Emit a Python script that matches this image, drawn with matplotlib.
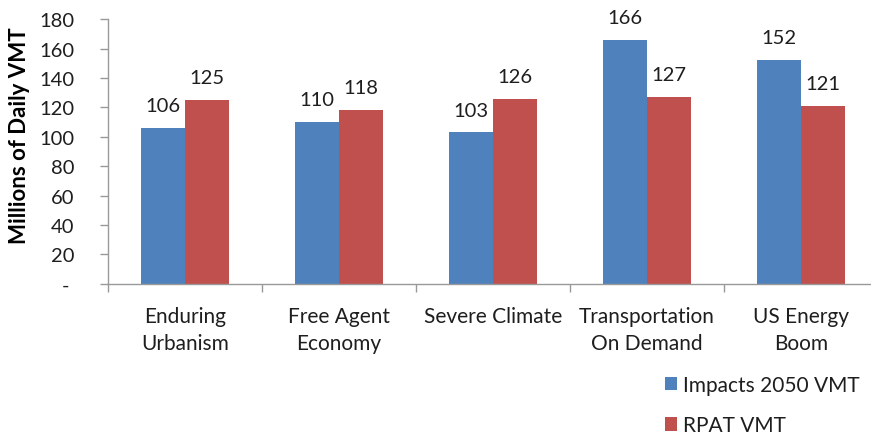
import matplotlib
matplotlib.use("Agg")
import matplotlib.pyplot as plt
import numpy as np

plt.rcParams['font.family'] = ['Lato', 'DejaVu Sans']

categories = ["Enduring\nUrbanism", "Free Agent\nEconomy", "Severe Climate",
              "Transportation\nOn Demand", "US Energy\nBoom"]
impacts = [106, 110, 103, 166, 152]
rpat = [125, 118, 126, 127, 121]
series_names = ["Impacts 2050 VMT", "RPAT VMT"]
yticks = [0, 20, 40, 60, 80, 100, 120, 140, 160, 180]
ytick_labels = ["- ", "20", "40", "60", "80", "100", "120", "140", "160", "180"]

blue = "#4F81BD"
red = "#C0504D"
axis_col = "#999999"
text_col = "#1e1e1e"

fig = plt.figure(figsize=(8.71, 4.39), dpi=100)
ax = fig.add_axes([0.124, 0.351, 0.884, 0.603])

x = np.arange(len(categories))
w = 0.286
b1 = ax.bar(x - w / 2, impacts, w, color=blue, label=series_names[0], clip_on=False)
b2 = ax.bar(x + w / 2, rpat, w, color=red, label=series_names[1], clip_on=False)

for bars, vals in ((b1, impacts), (b2, rpat)):
    for r, v in zip(bars, vals):
        ax.annotate(str(v), (r.get_x() + r.get_width() / 2, v), xytext=(0, 10),
                    textcoords="offset points", ha="center", va="bottom",
                    fontsize=14.5, color=text_col, annotation_clip=False)

ax.set_xlim(-0.5, 4.5)
ax.set_ylim(0, 180)
ax.set_yticks(yticks)
ax.set_yticklabels(ytick_labels, fontsize=14.5, color=text_col)
ax.set_xticks(x)
ax.set_xticklabels(categories, fontsize=15, color=text_col, linespacing=1.45)
ax.tick_params(axis='x', length=0, pad=16)
ax.set_xticks(np.arange(-0.5, 4.6, 1), minor=True)
ax.tick_params(axis='x', which='minor', length=6, color=axis_col, width=1)
ax.tick_params(axis='y', length=6, color=axis_col, width=1, pad=18)

for s in ("top", "right"):
    ax.spines[s].set_visible(False)
for s in ("left", "bottom"):
    ax.spines[s].set_color(axis_col)
    ax.spines[s].set_linewidth(1)

fig.text(20 / 871, 1 - 136 / 439, "Millions of Daily VMT", rotation=90,
         ha="center", va="center", fontsize=16, fontweight="bold", color="black")

leg = fig.legend(handles=[b1, b2], labels=series_names, loc="center left",
                 bbox_to_anchor=(0.763, 0.075), frameon=False, fontsize=15,
                 handlelength=0.62, handleheight=0.62, handletextpad=0.25,
                 labelspacing=1.0, borderaxespad=0, borderpad=0)
for t in leg.get_texts():
    t.set_color(text_col)

fig.savefig("out.png", dpi=100)
